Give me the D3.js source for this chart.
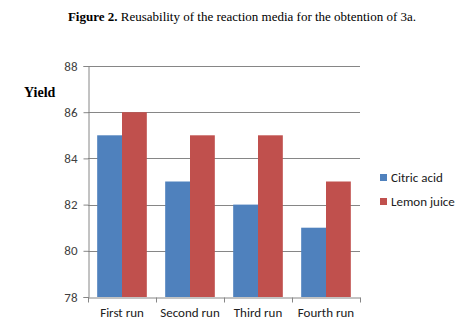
<!DOCTYPE html>
<html>
<head>
<meta charset="utf-8">
<script src="https://cdn.jsdelivr.net/npm/d3@7"></script>
<style>
body { margin: 0; background: #fff; }
text { font-family: Carlito, Calibri, "Liberation Sans", sans-serif; }
</style>
</head>
<body>
<script>
var categories = ["First run", "Second run", "Third run", "Fourth run"];
var seriesNames = ["Citric acid", "Lemon juice"];
var citricAcid = [85, 83, 82, 81];
var lemonJuice = [86, 85, 85, 83];
var yTicks = [78, 80, 82, 84, 86, 88];
var colors = ["#4F81BD", "#C0504D"];

(function () {
var width = 457, height = 327;
var plotLeft = 88, plotRight = 360, plotTop = 66, plotBottom = 297;

var svg = d3.select("body").append("svg")
    .attr("width", width)
    .attr("height", height);

var x = d3.scaleBand().domain(categories).range([plotLeft, plotRight]).paddingInner(0).paddingOuter(0);
var x1 = d3.scaleBand().domain(seriesNames).range([0, x.bandwidth()]).paddingInner(0).paddingOuter(0.37);
var y = d3.scaleLinear().domain([78, 88]).range([plotBottom, plotTop]);

// title
var title = svg.append("text")
    .attr("x", 242).attr("y", 21)
    .attr("text-anchor", "middle")
    .style("font-family", "'Liberation Serif', 'Times New Roman', serif")
    .style("font-size", "13px");
title.append("tspan").style("font-weight", "bold").text("Figure 2.");
title.append("tspan").text(" Reusability of the reaction media for the obtention of 3a.");

// gridlines
svg.append("g").selectAll("line")
    .data(yTicks.filter(function(d){ return d > 78; }))
    .enter().append("line")
    .attr("x1", plotLeft).attr("x2", plotRight)
    .attr("y1", function(d){ return Math.round(y(d)) + 0.5; })
    .attr("y2", function(d){ return Math.round(y(d)) + 0.5; })
    .attr("stroke", "#868686");

// bars
var data = categories.map(function(c, i){ return {cat: c, vals: [citricAcid[i], lemonJuice[i]]}; });
var groups = svg.append("g").selectAll("g")
    .data(data).enter().append("g")
    .attr("transform", function(d){ return "translate(" + x(d.cat) + ",0)"; });
groups.selectAll("rect")
    .data(function(d){ return d.vals.map(function(v, j){ return {name: seriesNames[j], v: v, j: j}; }); })
    .enter().append("rect")
    .attr("x", function(d){ return x1(d.name); })
    .attr("width", x1.bandwidth())
    .attr("y", function(d){ return y(d.v); })
    .attr("height", function(d){ return plotBottom - y(d.v); })
    .attr("fill", function(d){ return colors[d.j]; });

// y axis
var yAxis = d3.axisLeft(y).tickValues(yTicks).tickSize(5).tickPadding(6).tickFormat(d3.format("d"));
var gy = svg.append("g").attr("transform", "translate(" + (plotLeft + 0.5) + ",0)").call(yAxis);
gy.select(".domain").attr("stroke", "#868686");
gy.selectAll(".tick line").attr("stroke", "#868686");
gy.selectAll(".tick text").style("font-size", "13px").attr("fill", "#404040")
    .style("font-family", "Carlito, Calibri, 'Liberation Sans', sans-serif");

// x axis
var xAxis = d3.axisBottom(x).tickSize(0).tickPadding(10);
var gx = svg.append("g").attr("transform", "translate(0," + (plotBottom + 0.5) + ")").call(xAxis);
gx.select(".domain").attr("stroke", "#868686");
gx.selectAll(".tick text").style("font-size", "13px").attr("fill", "#202020")
    .style("font-family", "Carlito, Calibri, 'Liberation Sans', sans-serif");
// category separators
gx.append("g").selectAll("line")
    .data(categories.concat(["end"]))
    .enter().append("line")
    .attr("x1", function(d, i){ return Math.round(plotLeft + i * x.bandwidth()) + 0.5; })
    .attr("x2", function(d, i){ return Math.round(plotLeft + i * x.bandwidth()) + 0.5; })
    .attr("y1", 0).attr("y2", 5)
    .attr("stroke", "#868686");

// y label
svg.append("text")
    .attr("x", 24).attr("y", 97)
    .style("font-family", "'Liberation Serif', 'Times New Roman', serif")
    .style("font-weight", "bold")
    .style("font-size", "14px")
    .text("Yield");

// legend
var legend = svg.append("g").selectAll("g")
    .data(seriesNames).enter().append("g")
    .attr("transform", function(d, i){ return "translate(380," + (174 + i * 24) + ")"; });
legend.append("rect").attr("width", 7).attr("height", 7)
    .attr("fill", function(d, i){ return colors[i]; });
legend.append("text").attr("x", 11).attr("y", 8)
    .style("font-size", "13px").attr("fill", "#202020")
    .text(function(d){ return d; });
})();
</script>
</body>
</html>
